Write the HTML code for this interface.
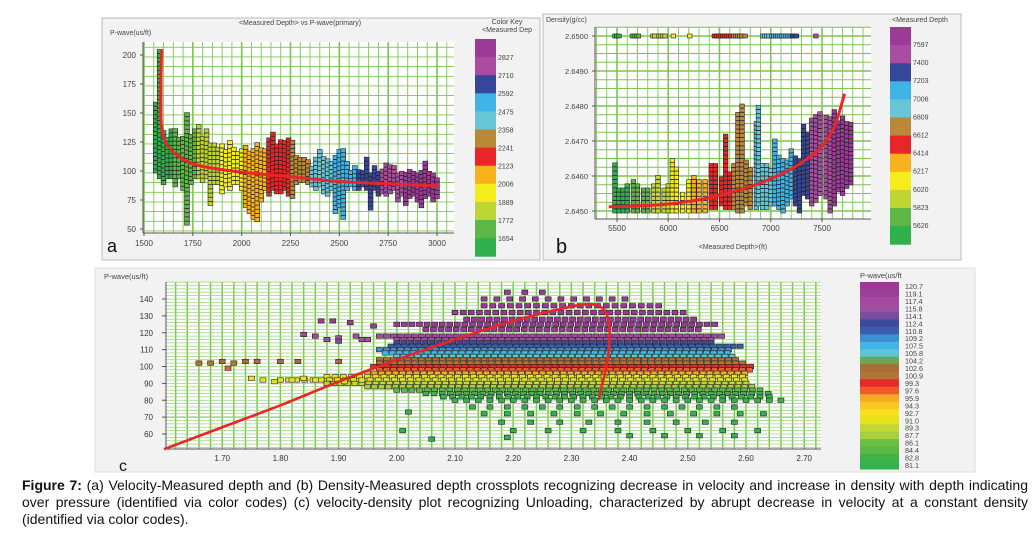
<!DOCTYPE html>
<html><head><meta charset="utf-8">
<style>
html,body{margin:0;padding:0;background:#fff;}
body{width:1032px;height:533px;position:relative;overflow:hidden;font-family:"Liberation Sans",sans-serif;}
#cap{position:absolute;left:22px;top:477px;width:1006px;font-size:14px;line-height:17px;color:#111;text-align:justify;}
#cap b{font-weight:bold;}
</style></head>
<body>
<svg id="fig" width="1032" height="475" style="position:absolute;left:0;top:0" font-family="Liberation Sans, sans-serif">
  <rect x="102" y="18" width="438" height="242" fill="#f2f2f2" stroke="#bbb"/>
  <rect x="543" y="14" width="418" height="246" fill="#f2f2f2" stroke="#bbb"/>
  <rect x="95" y="268" width="880" height="204" fill="#f2f2f2" stroke="#ddd"/>
  <g id="ga"></g><g id="gb"></g><g id="gc"></g>
</svg>
<div id="cap"><b>Figure 7:</b> (a) Velocity-Measured depth and (b) Density-Measured depth crossplots recognizing decrease in velocity and increase in density with depth indicating over pressure (identified via color codes) (c) velocity-density plot recognizing Unloading, characterized by abrupt decrease in velocity at a constant density (identified via color codes).</div>
<script>
// ---------- Panel A data ----------
const aDepth=[1560,1580,1600,1620,1640,1660,1680,1700,1720,1740,1760,1780,1800,1820,1840,1860,1880,1900,1920,1940,1960,1980,2000,2020,2040,2060,2080,2100,2120,2140,2160,2180,2200,2220,2240,2260,2280,2300,2320,2340,2360,2380,2400,2420,2440,2460,2480,2500,2520,2540,2560,2580,2600,2620,2640,2660,2680,2700,2720,2740,2760,2780,2800,2820,2840,2860,2880,2900,2920,2940,2960,2980,3000];
const aLow=[100,95,90,95,95,88,95,85,55,90,95,95,92,95,72,90,90,82,88,85,90,90,85,70,65,60,58,75,85,80,85,82,82,85,80,78,90,92,92,90,88,85,88,82,80,85,65,70,60,85,88,85,85,88,85,68,85,80,82,80,82,85,75,80,72,78,80,75,70,78,80,75,78];
const aHigh=[160,205,135,130,135,135,130,130,150,130,135,140,130,135,125,125,122,122,120,125,120,118,120,122,118,120,125,120,120,128,132,122,128,125,128,125,115,112,110,108,105,112,118,112,110,108,115,118,120,108,100,105,100,102,112,100,105,100,102,108,105,105,100,100,98,100,98,98,100,108,100,98,95];
const aTicksX=[1500,1750,2000,2250,2500,2750,3000];
const aTicksY=[50,75,100,125,150,175,200];
const aCurveX=[1590,1587,1585,1592,1610,1640,1700,1800,2000,2250,2500,2750,3010];
const aCurveY=[205,180,155,135,125,118,110,104,99,95,91,89,87];
const aKeyLabels=[2827,2710,2592,2475,2358,2241,2123,2006,1889,1772,1654];
const aKeyColors=["#9b3b97","#a94ca2","#36479b","#40b3e6","#66c6d6","#b98838","#e8262a","#f9b21c","#f6ec1c","#bdd535","#5db646","#2fb24c"];
// ---------- Panel B data ----------
const bDepth=[5480,5520,5560,5600,5660,5700,5760,5800,5860,5900,5960,6000,6040,6080,6140,6200,6250,6300,6360,6420,6460,6520,6560,6600,6640,6680,6720,6760,6800,6860,6880,6920,6960,7000,7040,7080,7120,7160,7200,7240,7280,7320,7360,7400,7440,7480,7540,7580,7620,7660,7700,7740,7780];
const bLow=[2.6450,2.6450,2.6450,2.6450,2.6450,2.6450,2.6450,2.6450,2.6450,2.6450,2.6450,2.6450,2.6450,2.6450,2.6450,2.6450,2.6450,2.6450,2.6450,2.6451,2.6451,2.6452,2.6451,2.6451,2.6451,2.6450,2.6450,2.6452,2.6451,2.6451,2.6452,2.6451,2.6451,2.6452,2.6452,2.6451,2.6450,2.6452,2.6454,2.6452,2.6450,2.6455,2.6454,2.6452,2.6453,2.6455,2.6454,2.6450,2.6452,2.6456,2.6455,2.6457,2.6458];
const bHigh=[2.6464,2.6457,2.6456,2.6458,2.6459,2.6458,2.6457,2.6456,2.6458,2.6460,2.6457,2.6458,2.6465,2.6462,2.6455,2.6459,2.6460,2.6459,2.6459,2.6463,2.6464,2.6460,2.6472,2.6461,2.6463,2.6478,2.6480,2.6464,2.6462,2.6475,2.6480,2.6464,2.6463,2.6462,2.6471,2.6466,2.6465,2.6464,2.6468,2.6466,2.6465,2.6475,2.6473,2.6476,2.6477,2.6478,2.6477,2.6477,2.6479,2.6476,2.6477,2.6476,2.6475];
const bTopX=[5480,5500,5520,5650,5670,5690,5710,5850,5870,5910,5930,5950,5970,6050,6210,6450,6470,6490,6510,6530,6550,6570,6590,6610,6640,6660,6680,6700,6720,6750,6920,6940,6960,6980,7010,7030,7050,7070,7090,7110,7130,7150,7170,7190,7210,7230,7250,7440];
const bTicksX=[5500,6000,6500,7000,7500];
const bTicksY=[2.6450,2.6460,2.6470,2.6480,2.6490,2.6500];
const bCurveX=[5420,5800,6000,6300,6500,6800,7000,7200,7350,7500,7620,7720];
const bCurveY=[2.64512,2.64516,2.64520,2.64532,2.64545,2.64570,2.64592,2.64620,2.64648,2.64685,2.64740,2.64835];
const bKeyLabels=[7597,7400,7203,7006,6809,6612,6414,6217,6020,5823,5626];
const bKeyColors=["#9b3b97","#a94ca2","#36479b","#40b3e6","#66c6d6","#b98838","#e8262a","#f9b21c","#f6ec1c","#bdd535","#5db646","#2fb24c"];
// ---------- Panel C data ----------
const cPwave=[144,140,136,132,128,125,122,118,116,114,112,110,108,106,104,102,100,98,96,94,92,90,88,86,84,82,80,76,72,67,62,59];
const cXmin=[2.19,2.15,2.15,2.10,2.12,2.00,2.05,1.97,2.00,2.00,1.99,1.97,1.98,2.00,1.97,1.97,1.96,1.97,1.95,1.88,1.80,1.88,1.95,2.00,2.05,2.08,2.10,2.13,2.15,2.18,2.20,2.40];
const cXmax=[2.26,2.40,2.45,2.50,2.52,2.55,2.52,2.56,2.55,2.55,2.60,2.58,2.57,2.58,2.59,2.60,2.61,2.61,2.60,2.60,2.61,2.60,2.62,2.63,2.64,2.65,2.66,2.60,2.66,2.60,2.62,2.62];
const cStep=[0.03,0.022,0.015,0.014,0.013,0.013,0.013,0.012,0.012,0.012,0.012,0.012,0.012,0.012,0.012,0.012,0.012,0.012,0.012,0.014,0.014,0.012,0.012,0.013,0.014,0.016,0.02,0.03,0.04,0.05,0.06,0.06];
const cOutX=[1.66,1.68,1.70,1.72,1.74,1.76,1.80,1.83,1.90,1.71,1.75,1.77,1.79,1.82,1.84,1.86,1.88,1.91,1.94,1.84,1.86,1.88,1.90,1.93,1.95,1.87,1.89,1.92,1.96,1.88,1.90,1.94,2.02,2.01,2.06,2.19];
const cOutY=[102,102,103,102,103,103,103,103,103,99,93,92,91,92,93,92,90,91,92,119,118,116,117,118,116,127,127,126,124,116,115,116,73,62,57,58];
const cTicksX=[1.70,1.80,1.90,2.00,2.10,2.20,2.30,2.40,2.50,2.60,2.70];
const cTicksY=[60,70,80,90,100,110,120,130,140];
const cCurveX=[1.60,1.70,1.80,1.90,2.00,2.10,2.20,2.28,2.33,2.355,2.365,2.365,2.36,2.352,2.346];
const cCurveY=[51,64,77,91,104,116,127,134,137,134,125,112,100,88,80];
const cKeyLabels=["120.7","119.1","117.4","115.8","114.1","112.4","110.8","109.2","107.5","105.8","104.2","102.6","100.9","99.3","97.6","95.9","94.3","92.7","91.0","89.3","87.7","86.1","84.4","82.8","81.1"];
const cKeyColors=["#9a3a96","#9d3f99","#a5489f","#a04fa0","#7a4c9e","#3a4a9c","#3c5dae","#3c8fd0","#3fb5e8","#5fc4d4","#6aa84f","#a86d38","#b5733a","#e82a2a","#f05a28","#f7a823","#f7c81f","#f5e11a","#e6e21c","#c4d834","#a8cf3c","#6cbf45","#5ab845","#3fb34a","#33b14c"];

const NS="http://www.w3.org/2000/svg";
function mk(parent,tag,attrs){const e=document.createElementNS(NS,tag);for(const k in attrs)e.setAttribute(k,attrs[k]);parent.appendChild(e);return e;}
function txt(parent,x,y,s,size,anchor,fill){const t=mk(parent,'text',{x:x,y:y,'font-size':size,'text-anchor':anchor||'start',fill:fill||'#444'});t.textContent=s;return t;}
function smooth(pts){let d='M'+pts[0][0]+','+pts[0][1];for(let i=1;i<pts.length;i++){const p0=pts[i-2]||pts[i-1],p1=pts[i-1],p2=pts[i],p3=pts[i+1]||p2;d+=' C'+(p1[0]+(p2[0]-p0[0])/6)+','+(p1[1]+(p2[1]-p0[1])/6)+' '+(p2[0]-(p3[0]-p1[0])/6)+','+(p2[1]-(p3[1]-p1[1])/6)+' '+p2[0]+','+p2[1];}return d;}
function binColor(v,labels,colors){for(let i=0;i<labels.length;i++){if(v>=labels[i])return colors[i];}return colors[colors.length-1];}

// ================= Panel A =================
(function(){
const g=document.getElementById('ga');
const L=143,R=454,T=42,B=233;
const sx=v=>144+(v-1500)*(437-144)/1500, sy=v=>229-(v-50)*(229-55)/150;
mk(g,'rect',{x:L,y:T,width:R-L,height:B-T,fill:'#fff'});
for(let v=1450;v<=3060;v+=50){const x=sx(v);if(x<L||x>R)continue;const e=mk(g,'line',{x1:x,x2:x,y1:T,y2:B,stroke:'#7cc64f','stroke-width':(v%250==0)?1.6:0.9});}
for(let v=40;v<=215;v+=25/3){const y=sy(v);if(y<T||y>B)continue;const e=mk(g,'line',{x1:L,x2:R,y1:y,y2:y,stroke:'#7cc64f','stroke-width':(Math.abs(v%25)<0.1||Math.abs(v%25-25)<0.1)?1.6:0.9});}
mk(g,'line',{x1:L,x2:L,y1:T,y2:B,stroke:'#555'});mk(g,'line',{x1:L,x2:R,y1:B,y2:B,stroke:'#555'});
aTicksX.forEach(v=>{const t=txt(g,sx(v),246,String(v),8,'middle');mk(g,'line',{x1:sx(v),x2:sx(v),y1:B,y2:B+3,stroke:'#555'});});
aTicksY.forEach(v=>{const t=txt(g,136,sy(v)+3,String(v),8,'end');mk(g,'line',{x1:L-3,x2:L,y1:sy(v),y2:sy(v),stroke:'#555'});});
const yt=txt(g,110,35,'P-wave(us/ft)',7,'start');
const tt=txt(g,300,25,'<Measured Depth> vs P-wave(primary)',7,'middle');
const pl=txt(g,107,252,'a',18,'start','#111');
const pts=mk(g,'g',{});
aDepth.forEach((d,i)=>{const col=binColor(d,aKeyLabels,aKeyColors);for(let v=aLow[i];v<=aHigh[i];v+=3.6){const e=mk(pts,'rect',{x:sx(d)-2.4,y:sy(v)-2,width:4.8,height:4,fill:col,stroke:'#222','stroke-width':0.6});}});
const cp=aCurveX.map((x,i)=>[sx(x),sy(aCurveY[i])]);
const c=mk(g,'path',{d:smooth(cp),fill:'none',stroke:'#e8262a','stroke-width':3});
const kt=txt(g,507,24,'Color Key',7,'middle');
txt(g,507,32,'<Measured Dep',7,'middle');
aKeyColors.forEach((col,i)=>{const e=mk(g,'rect',{x:475,y:39+i*18.1,width:21,height:18.6,fill:col});});
aKeyLabels.forEach((l,i)=>{const t=txt(g,498,60+i*18.1,String(l),7,'start');});
})();

// ================= Panel B =================
(function(){
const g=document.getElementById('gb');
const L=595,R=871,T=27,B=219;
const sx=v=>617+(v-5500)*(822-617)/2000, sy=v=>211-(v-2.6450)*(211-36)/0.005;
mk(g,'rect',{x:L,y:T,width:R-L,height:B-T,fill:'#fff'});
for(let v=5300;v<=7900;v+=100){const x=sx(v);if(x<L||x>R)continue;const e=mk(g,'line',{x1:x,x2:x,y1:T,y2:B,stroke:'#7cc64f','stroke-width':(v%500==0)?1.6:0.9});}
for(let k=-1;k<=22;k++){const v=2.6450+k*0.00025;const y=sy(v);if(y<T||y>B)continue;const e=mk(g,'line',{x1:L,x2:R,y1:y,y2:y,stroke:'#7cc64f','stroke-width':(k%4==0)?1.6:0.9});}
mk(g,'line',{x1:L,x2:L,y1:T,y2:B,stroke:'#555'});mk(g,'line',{x1:L,x2:R,y1:B,y2:B,stroke:'#555'});
bTicksX.forEach(v=>{const t=txt(g,sx(v),231,String(v),8,'middle');mk(g,'line',{x1:sx(v),x2:sx(v),y1:B,y2:B+3,stroke:'#555'});});
bTicksY.forEach(v=>{const t=txt(g,588,sy(v)+3,v.toFixed(4),7.5,'end');mk(g,'line',{x1:L-3,x2:L,y1:sy(v),y2:sy(v),stroke:'#555'});});
const yt=txt(g,546,22,'Density(g/cc)',7,'start');
const xt=txt(g,733,249,'<Measured Depth>(ft)',7,'middle');
const pl=txt(g,556,253,'b',20,'start','#111');
const pts=mk(g,'g',{});
bDepth.forEach((d,i)=>{const col=binColor(d,bKeyLabels,bKeyColors);for(let v=bLow[i];v<=bHigh[i]+1e-7;v+=0.00012){const e=mk(pts,'rect',{x:sx(d)-2.3,y:sy(v)-2,width:4.6,height:4,fill:col,stroke:'#222','stroke-width':0.6});}});
bTopX.forEach(d=>{const e=mk(pts,'rect',{x:sx(d)-2.3,y:sy(2.6500)-2,width:4.6,height:4,fill:binColor(d,bKeyLabels,bKeyColors),stroke:'#222','stroke-width':0.6});});
const cp=bCurveX.map((x,i)=>[sx(x),sy(bCurveY[i])]);
const c=mk(g,'path',{d:smooth(cp),fill:'none',stroke:'#e8262a','stroke-width':3});
const kt=txt(g,892,22,'<Measured Depth',7,'start');
bKeyColors.forEach((col,i)=>{const e=mk(g,'rect',{x:890,y:27+i*18.1,width:21,height:18.6,fill:col});});
bKeyLabels.forEach((l,i)=>{const t=txt(g,913,47+i*18.1,String(l),7,'start');});
})();

// ================= Panel C =================
(function(){
const g=document.getElementById('gc');
const L=166,R=821,T=282,B=449;
const sx=v=>164+(v-1.60)*582, sy=v=>434-(v-60)*(434-299)/80;
mk(g,'rect',{x:L,y:T,width:R-L,height:B-T,fill:'#fff'});
for(let k=0;k<=56;k++){const v=1.60+k*0.02;const x=sx(v);if(x<L||x>R)continue;const e=mk(g,'line',{x1:x,x2:x,y1:T,y2:B,stroke:'#7cc64f','stroke-width':1.5});}
for(let v=50;v<=150;v+=2){const y=sy(v);if(y<T||y>B)continue;const e=mk(g,'line',{x1:L,x2:R,y1:y,y2:y,stroke:'#9bd47a','stroke-width':(v==70)?1.5:0.7});}
mk(g,'line',{x1:L,x2:L,y1:T,y2:B,stroke:'#555'});mk(g,'line',{x1:L,x2:R,y1:B,y2:B,stroke:'#555'});
cTicksX.forEach(v=>{const t=txt(g,sx(v),461,v.toFixed(2),8,'middle','#333');});
cTicksY.forEach(v=>{const t=txt(g,153,sy(v)+3,String(v),8,'end','#333');mk(g,'line',{x1:L-4,x2:L,y1:sy(v),y2:sy(v),stroke:'#555'});});
const yt=txt(g,104,279,'P-wave(us/ft)',7.5,'start');
const pl=txt(g,119,471,'c',16,'start','#111');
const pts=mk(g,'g',{});
const cl=v=>{const lv=cKeyLabels.map(parseFloat);return binColor(v,lv,cKeyColors);};
cPwave.forEach((p,i)=>{for(let x=cXmin[i];x<=cXmax[i]+1e-6;x+=cStep[i]){const e=mk(pts,'rect',{x:sx(x)-3,y:sy(p)-2.2,width:6,height:4.4,fill:cl(p),stroke:'#222','stroke-width':0.6});}});
cOutX.forEach((x,i)=>{const e=mk(pts,'rect',{x:sx(x)-3,y:sy(cOutY[i])-2.2,width:6,height:4.4,fill:cl(cOutY[i]),stroke:'#222','stroke-width':0.6});});
const cp=cCurveX.map((x,i)=>[sx(x),sy(cCurveY[i])]);
const c=mk(g,'path',{d:smooth(cp),fill:'none',stroke:'#e8262a','stroke-width':2.6});
const kt=txt(g,860,278,'P-wave(us/ft',7.5,'start');
const kh=(469-282)/cKeyColors.length;
cKeyColors.forEach((col,i)=>{const e=mk(g,'rect',{x:860,y:282+i*kh,width:39,height:kh+0.5,fill:col});});
cKeyLabels.forEach((l,i)=>{const t=txt(g,905,289+i*7.46,l,7.2,'start','#444');});
})();
</script>
</body></html>
